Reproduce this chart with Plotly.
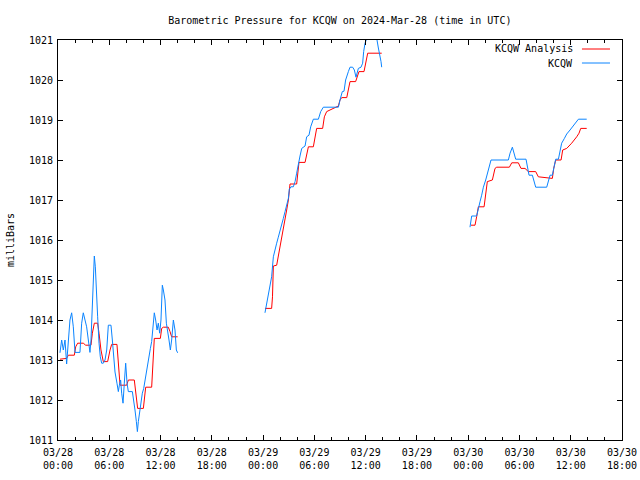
import plotly.graph_objects as go

# ---- data (hours since 2024-03-28 00:00 UTC, pressure in mb) ----
obs_t1 = [0.23, 0.43, 0.62, 0.82, 1.01, 1.21, 1.4, 1.6, 1.79, 1.99, 2.57, 2.77, 2.96, 3.16, 3.35, 3.55, 3.74, 3.86,
          4.02, 4.13, 4.25, 4.37, 4.53, 4.64, 4.8, 4.95, 5.11, 5.3, 5.5, 5.7, 5.89, 6.2, 6.36, 6.52, 6.67, 6.9, 7.06,
          7.18, 7.33, 7.45, 7.61, 7.76, 7.92, 8.08, 8.23, 8.7, 8.86, 9.01, 9.17, 9.29, 9.4, 9.56, 9.71, 9.87, 10.03,
          10.18, 10.34, 10.5, 10.65, 10.81, 10.96, 11.12, 11.27, 11.43, 11.59, 11.74, 11.9, 12.05, 12.21, 12.33,
          12.52, 12.68, 12.83, 12.99, 13.15, 13.3, 13.5, 13.69, 13.85, 14.0]
obs_v1 = [1013.18, 1013.5, 1013.25, 1013.5, 1012.9, 1013.5, 1014.0, 1014.18, 1013.83, 1013.19, 1013.19, 1013.92,
          1014.18, 1014.0, 1013.83, 1013.5, 1013.19, 1013.5, 1014.33, 1015.17, 1015.6, 1015.33, 1014.75, 1014.08,
          1013.42, 1013.08, 1012.92, 1012.92, 1013.0, 1013.25, 1013.87, 1013.87, 1013.5, 1013.12, 1012.7, 1012.42,
          1012.21, 1012.37, 1012.5, 1012.17, 1011.92, 1012.42, 1012.92, 1012.42, 1012.21, 1012.21, 1012.0, 1011.75,
          1011.46, 1011.21, 1011.46, 1011.75, 1011.96, 1012.17, 1012.29, 1012.5, 1012.67, 1012.88, 1013.08, 1013.29,
          1013.46, 1013.79, 1014.18, 1014.0, 1013.75, 1013.92, 1013.67, 1014.0, 1014.87, 1014.75, 1014.5, 1013.92,
          1013.75, 1013.5, 1013.25, 1013.5, 1014.0, 1013.75, 1013.25, 1013.18]

obs_t2 = [24.22, 24.42, 24.61, 24.81, 25.0, 25.2, 25.39, 25.59, 25.78, 25.98, 26.18, 26.37, 26.57, 26.76, 26.96,
          27.07, 27.27, 27.54, 27.74, 27.93, 28.13, 28.32, 28.52, 28.91, 29.1, 29.37, 29.57, 29.88, 30.47, 30.74,
          31.05, 32.81, 33.0, 33.27, 33.47, 33.66, 33.98, 34.17, 34.48, 34.68, 34.87, 35.15, 35.46, 35.65, 35.77,
          35.93, 36.16, 37.29, 37.49, 37.68, 37.8, 37.88]
obs_v2 = [1014.18, 1014.42, 1014.67, 1014.83, 1015.08, 1015.58, 1015.79, 1015.92, 1016.07, 1016.21, 1016.37,
          1016.54, 1016.71, 1016.87, 1017.04, 1017.27, 1017.33, 1017.33, 1017.46, 1017.67, 1017.92, 1018.1, 1018.29,
          1018.35, 1018.58, 1018.62, 1018.83, 1019.02, 1019.02, 1019.21, 1019.32, 1019.32, 1019.5, 1019.71, 1019.72,
          1020.0, 1020.21, 1020.32, 1020.32, 1020.25, 1020.07, 1020.29, 1020.32, 1020.42, 1020.71, 1020.92, 1021.05,
          1021.05, 1020.8, 1020.62, 1020.46, 1020.32]

obs_t3 = [48.21, 48.41, 48.99, 49.19, 49.39, 49.58, 49.78, 50.05, 50.28, 50.44, 50.67, 52.7, 52.9, 53.17, 53.37,
          53.56, 54.77, 54.96, 55.12, 55.51, 55.74, 55.9, 57.19, 57.38, 57.58, 57.85, 58.09, 58.24, 58.56, 58.75,
          58.94, 59.26, 59.53, 59.92, 60.31, 60.59, 60.9, 61.87]
obs_v3 = [1016.32, 1016.6, 1016.6, 1016.83, 1016.96, 1017.12, 1017.32, 1017.5, 1017.67, 1017.83, 1018.0, 1018.0,
          1018.17, 1018.32, 1018.17, 1018.02, 1018.02, 1017.79, 1017.62, 1017.62, 1017.46, 1017.32, 1017.32, 1017.5,
          1017.62, 1017.62, 1017.87, 1018.02, 1018.02, 1018.25, 1018.42, 1018.54, 1018.65, 1018.75, 1018.85,
          1018.93, 1019.02, 1019.02]

ana_t1 = [0.23, 1.01, 1.21, 1.91, 2.07, 2.3, 2.96, 3.24, 3.86, 4.02, 4.25, 4.64, 4.8, 5.03, 5.3, 5.81, 6.09, 6.28,
          6.9, 7.06, 7.26, 8.04, 8.23, 8.93, 9.09, 9.32, 9.99, 10.1, 10.26, 10.96, 11.12, 11.27, 11.98, 12.13, 12.33,
          12.91, 13.11, 13.3, 14.0]
ana_v1 = [1013.02, 1013.04, 1013.12, 1013.12, 1013.33, 1013.42, 1013.42, 1013.37, 1013.37, 1013.67, 1013.92,
          1013.92, 1013.67, 1013.25, 1012.96, 1012.96, 1013.25, 1013.39, 1013.39, 1012.92, 1012.37, 1012.37, 1012.5,
          1012.5, 1012.17, 1011.79, 1011.79, 1012.08, 1012.32, 1012.32, 1012.92, 1013.54, 1013.54, 1013.79, 1013.82,
          1013.82, 1013.71, 1013.58, 1013.58]

ana_t2 = [24.22, 25.0, 25.1, 25.2, 25.59, 25.78, 25.98, 26.18, 26.37, 26.57, 26.76, 26.96, 27.15, 27.93, 28.05,
          28.2, 28.91, 29.1, 29.3, 29.88, 30.08, 30.27, 30.97, 31.17, 31.44, 32.22, 32.81, 33.0, 33.2, 33.79, 33.98,
          34.17, 34.83, 35.03, 35.22, 35.81, 36.0, 36.24, 37.88]
ana_v2 = [1014.29, 1014.29, 1014.58, 1015.35, 1015.37, 1015.58, 1015.79, 1016.04, 1016.25, 1016.5, 1016.75, 1017.0,
          1017.4, 1017.4, 1017.67, 1017.94, 1017.94, 1018.15, 1018.33, 1018.33, 1018.58, 1018.79, 1018.79, 1019.08,
          1019.21, 1019.29, 1019.35, 1019.5, 1019.56, 1019.56, 1019.75, 1019.96, 1019.96, 1020.08, 1020.21, 1020.21,
          1020.46, 1020.67, 1020.67]

ana_t3 = [48.33, 48.8, 48.99, 49.19, 49.86, 50.05, 50.24, 50.83, 51.14, 51.34, 52.82, 53.1, 53.87, 54.18, 54.65,
          55.04, 55.9, 56.21, 56.99, 57.3, 57.85, 58.01, 58.24, 58.87, 59.06, 59.53, 60.11, 60.7, 60.97, 61.17, 61.87]
ana_v3 = [1016.37, 1016.37, 1016.58, 1016.83, 1016.83, 1017.17, 1017.46, 1017.5, 1017.79, 1017.82, 1017.82,
          1017.93, 1017.93, 1017.79, 1017.79, 1017.71, 1017.71, 1017.58, 1017.56, 1017.54, 1017.54, 1017.79, 1018.0,
          1018.0, 1018.25, 1018.29, 1018.42, 1018.58, 1018.67, 1018.79, 1018.79]

tick_hours = [0, 6, 12, 18, 24, 30, 36, 42, 48, 54, 60, 66]
tick_labels = ["03/28<br>00:00", "03/28<br>06:00", "03/28<br>12:00", "03/28<br>18:00",
               "03/29<br>00:00", "03/29<br>06:00", "03/29<br>12:00", "03/29<br>18:00",
               "03/30<br>00:00", "03/30<br>06:00", "03/30<br>12:00", "03/30<br>18:00"]
y_ticks = [1011, 1012, 1013, 1014, 1015, 1016, 1017, 1018, 1019, 1020, 1021]


def join(*segs):
    xs, ys = [], []
    for i, (t, v) in enumerate(segs):
        if i:
            xs.append(None)
            ys.append(None)
        xs += t
        ys += v
    return xs, ys


RED = "#ff0000"
BLUE = "#0a84ff"
FONT = "DejaVu Sans Mono"

ax, ay = join((ana_t1, ana_v1), (ana_t2, ana_v2), (ana_t3, ana_v3))
ox, oy = join((obs_t1, obs_v1), (obs_t2, obs_v2), (obs_t3, obs_v3))

fig = go.Figure()
fig.add_trace(go.Scatter(x=ax, y=ay, mode="lines", name="KCQW Analysis",
                         line=dict(color=RED, width=1), connectgaps=False, showlegend=False))
fig.add_trace(go.Scatter(x=ox, y=oy, mode="lines", name="KCQW",
                         line=dict(color=BLUE, width=1), connectgaps=False, showlegend=False))

axis_common = dict(showline=True, linecolor="black", linewidth=1, mirror="allticks",
                   ticks="inside", tickcolor="black", tickwidth=1, showgrid=False, zeroline=False,
                   automargin=False,
                   tickfont=dict(family=FONT, size=10, color="black"))

fig.update_xaxes(range=[0, 66], tickvals=tick_hours, ticktext=tick_labels, ticklen=5,
                 ticklabelstandoff=3,
                 minor=dict(dtick=2, ticks="inside", ticklen=3, tickcolor="black", showgrid=False),
                 **axis_common)
fig.update_yaxes(range=[1011, 1021], tickvals=y_ticks, ticklen=5, ticklabelstandoff=2, **axis_common)

# gnuplot-style legend (text left of line sample)
legend_items = [("KCQW Analysis", RED, 0.9775), ("KCQW", BLUE, 0.9425)]
for text, col, yy in legend_items:
    fig.add_annotation(text=text, xref="paper", yref="paper", x=0.9167, y=yy,
                       xanchor="right", yanchor="middle", showarrow=False,
                       font=dict(family=FONT, size=10, color="black"))
    fig.add_shape(type="line", xref="paper", yref="paper", x0=0.929, x1=0.9787, y0=yy, y1=yy,
                  line=dict(color=col, width=1))

fig.add_annotation(text="milliBars", xref="paper", yref="paper", x=-0.085, y=0.5,
                   xanchor="center", yanchor="middle", textangle=-90, showarrow=False,
                   font=dict(family=FONT, size=10, color="black"))

fig.update_layout(
    width=640, height=480,
    margin=dict(l=58, r=18, t=40, b=40, autoexpand=False),
    paper_bgcolor="white", plot_bgcolor="white",
    title=dict(text="Barometric Pressure for KCQW on 2024-Mar-28 (time in UTC)",
               x=0.531, xanchor="center", y=0.958, yanchor="middle",
               font=dict(family=FONT, size=10, color="black")),
)

fig.write_html("out.html")
